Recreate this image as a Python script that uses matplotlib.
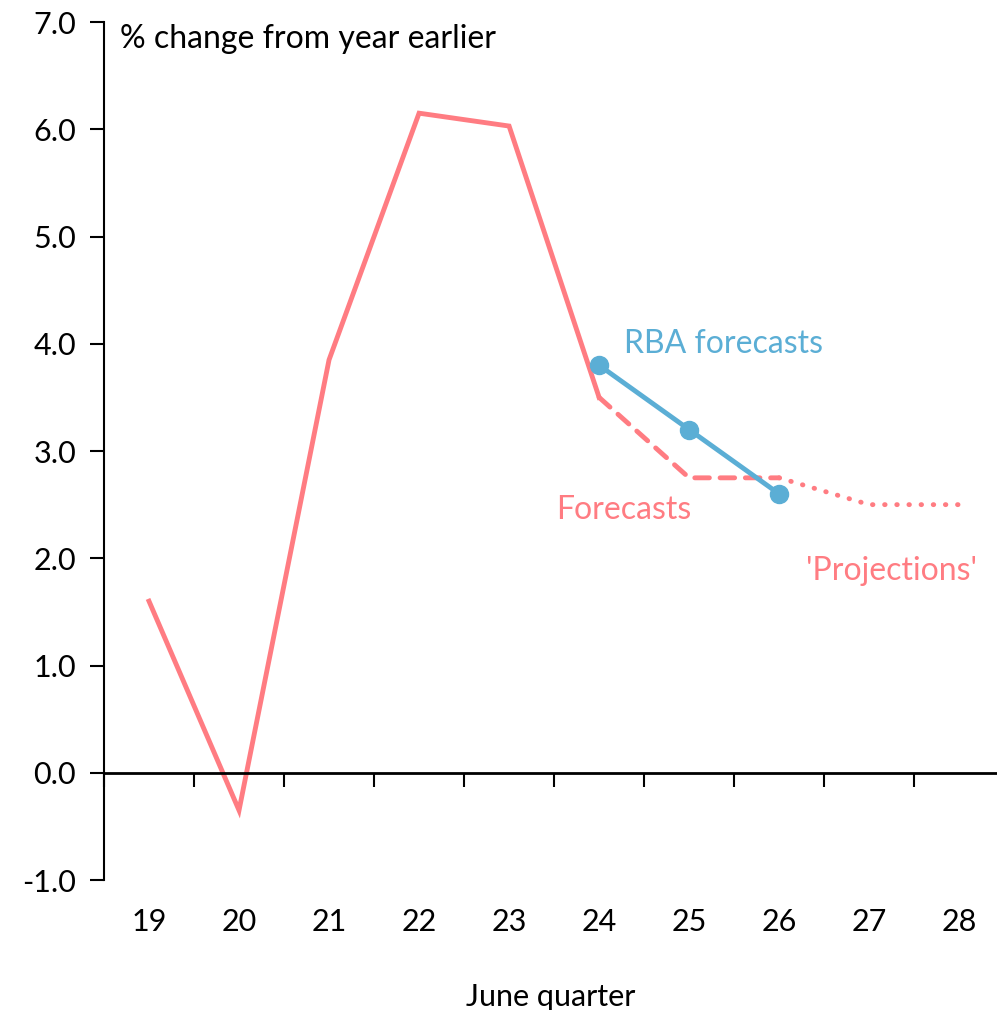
import matplotlib.pyplot as plt
import numpy as np

plt.rcParams['font.family'] = ['Lato', 'DejaVu Sans']

years = ['19', '20', '21', '22', '23', '24', '25', '26', '27', '28']
actual = [1.6, -0.35, 3.85, 6.15, 6.03, 3.5]          # 19..24
forecasts = [3.5, 2.75, 2.75]                          # 24..26
projections = [2.75, 2.5, 2.5]                         # 26..28
rba = [3.8, 3.2, 2.6]                                  # 24..26

red = '#FF7C82'
blue = '#5BAED5'

x = np.arange(len(years))

fig = plt.figure(figsize=(9.97, 10.10), dpi=100)
ax = fig.add_axes([0.1043, 0.1287, 0.8957, 0.8495])

ax.plot(x[0:6], actual, color=red, lw=3.5, solid_joinstyle='miter')
ax.plot(x[5:8], forecasts, color=red, lw=3.5, linestyle=(0, (3, 2.2)), dash_capstyle='round')
ax.plot(x[7:10], projections, color=red, lw=3.5, linestyle=(0, (0.1, 2.4)), dash_capstyle='round')
ax.plot(x[5:8], rba, color=blue, lw=3.5, marker='o', markersize=13)

ax.set_xlim(-0.5, 9.42)
ax.set_ylim(-1, 7)
ax.set_yticks(np.arange(-1, 8, 1))
ax.set_yticklabels([f'{v:.1f}' for v in np.arange(-1, 8, 1)])
ax.tick_params(axis='y', length=10, width=1.5, labelsize=22, pad=10)

for s in ['top', 'right']:
    ax.spines[s].set_visible(False)
ax.spines['left'].set_linewidth(1.5)
ax.spines['bottom'].set_position(('data', 0))
ax.spines['bottom'].set_linewidth(2)

ax.set_xticks(np.arange(-0.5, 9.5, 1))
ax.set_xticklabels([])
ax.tick_params(axis='x', length=10, width=1.5, direction='out')

sec = ax.secondary_xaxis('bottom')
sec.set_xticks(x)
sec.set_xticklabels(years)
sec.spines['bottom'].set_visible(False)
sec.tick_params(length=0, labelsize=22, pad=20)
sec.set_xlabel('June quarter', fontsize=22, labelpad=34)

ax.text(0.018, 0.98, '% change from year earlier', transform=ax.transAxes,
        fontsize=23, va='center', ha='left')
ax.text(5.28, 4.0, 'RBA forecasts', color=blue, fontsize=23, va='center', ha='left')
ax.text(4.52, 2.45, 'Forecasts', color=red, fontsize=23, va='center', ha='left')
ax.text(7.3, 1.88, "'Projections'", color=red, fontsize=23, va='center', ha='left')

fig.savefig('out.png', dpi=100)
